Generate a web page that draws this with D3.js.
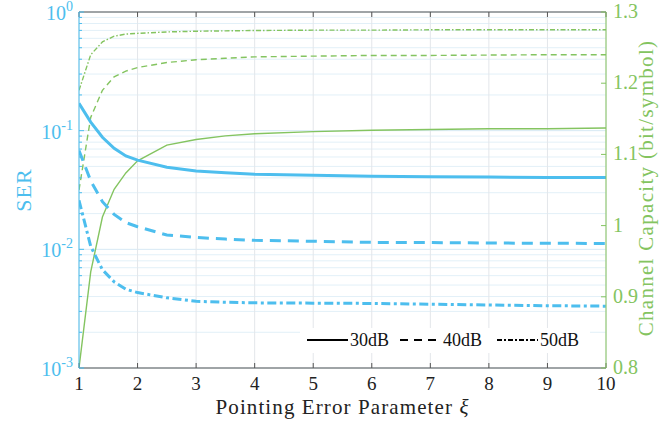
<!DOCTYPE html>
<html>
<head>
<meta charset="utf-8">
<script src="https://cdn.jsdelivr.net/npm/d3@7"></script>
<style>
body { margin: 0; background: #fff; }
text { font-family: "Liberation Serif", "DejaVu Serif", serif; }
</style>
</head>
<body>
<svg id="chart" width="663" height="425"></svg>
<script>
// pointing error parameter samples
var xi = [1, 1.2, 1.4, 1.6, 1.8, 2, 2.5, 3, 3.5, 4, 5, 6, 7, 8, 9, 10];

// SER, left log axis
var ser30 = [0.170, 0.118, 0.088, 0.071, 0.0612, 0.0565, 0.0492, 0.0458, 0.0442, 0.0430, 0.0420, 0.0413, 0.0409, 0.0406, 0.0404, 0.0403];
var ser40 = [0.068, 0.0378, 0.0252, 0.0197, 0.0168, 0.0155, 0.0132, 0.0126, 0.0122, 0.0119, 0.0117, 0.01145, 0.0114, 0.0113, 0.01125, 0.0112];
var ser50 = [0.0259, 0.0106, 0.00673, 0.00532, 0.00461, 0.00432, 0.0039, 0.00365, 0.00358, 0.00354, 0.00352, 0.0035, 0.00345, 0.0034, 0.00335, 0.00332];

// channel capacity, right axis
var cap30 = [0.80, 0.935, 1.012, 1.051, 1.074, 1.091, 1.113, 1.121, 1.126, 1.129, 1.132, 1.134, 1.135, 1.136, 1.136, 1.137];
var cap40 = [1.05, 1.152, 1.19, 1.209, 1.217, 1.222, 1.229, 1.233, 1.235, 1.237, 1.238, 1.239, 1.239, 1.2395, 1.24, 1.24];
var cap50 = [1.19, 1.24, 1.258, 1.266, 1.269, 1.270, 1.272, 1.273, 1.2735, 1.274, 1.2745, 1.2745, 1.275, 1.275, 1.275, 1.275];

var snrLabels = ["30dB", "40dB", "50dB"];
var xTicks = [1, 2, 3, 4, 5, 6, 7, 8, 9, 10];
var serTicks = [1e-3, 1e-2, 1e-1, 1];
var capTicks = [0.8, 0.9, 1, 1.1, 1.2, 1.3];

var blue = "#4DBEEE", green = "#84C460";
var pL = 79, pR = 606, pT = 12, pB = 368;

var svg = d3.select("#chart");
var x = d3.scaleLinear().domain([1, 10]).range([pL, pR]);
var yL = d3.scaleLog().domain([1e-3, 1]).range([pB, pT]);
var yR = d3.scaleLinear().domain([0.8, 1.3]).range([pB, pT]);

svg.append("defs").append("clipPath").attr("id", "clip")
    .append("rect").attr("x", pL).attr("y", pT).attr("width", pR - pL).attr("height", pB - pT);

var grid = svg.append("g");
// minor log grid
var minor = [];
for (var d = -3; d < 0; d++) {
    for (var m = 2; m <= 9; m++) minor.push(m * Math.pow(10, d));
}
grid.selectAll(".minor").data(minor).enter().append("line")
    .attr("x1", pL).attr("x2", pR)
    .attr("y1", function(v) { return yL(v); }).attr("y2", function(v) { return yL(v); })
    .attr("stroke", "#e2f0f8").attr("stroke-width", 1);
grid.selectAll(".major").data(serTicks).enter().append("line")
    .attr("x1", pL).attr("x2", pR)
    .attr("y1", function(v) { return yL(v); }).attr("y2", function(v) { return yL(v); })
    .attr("stroke", "#d6e9f4").attr("stroke-width", 1);
grid.selectAll(".vgrid").data(xTicks).enter().append("line")
    .attr("x1", function(v) { return x(v); }).attr("x2", function(v) { return x(v); })
    .attr("y1", pT).attr("y2", pB)
    .attr("stroke", "#e3e6ea").attr("stroke-width", 1);

var plot = svg.append("g").attr("clip-path", "url(#clip)");
var lineL = function(arr) {
    return d3.line().x(function(v, i) { return x(xi[i]); }).y(function(v) { return yL(v); })(arr);
};
var lineR = function(arr) {
    return d3.line().x(function(v, i) { return x(xi[i]); }).y(function(v) { return yR(v); })(arr);
};

var capSeries = [[cap30, null], [cap40, "6,4"], [cap50, "5,2,1.5,2"]];
capSeries.forEach(function(s) {
    plot.append("path").attr("d", lineR(s[0])).attr("fill", "none")
        .attr("stroke", green).attr("stroke-width", 1.4)
        .attr("stroke-dasharray", s[1]);
});
var serSeries = [[ser30, null], [ser40, "11,7"], [ser50, "9,3.5,3,3.5"]];
serSeries.forEach(function(s) {
    plot.append("path").attr("d", lineL(s[0])).attr("fill", "none")
        .attr("stroke", blue).attr("stroke-width", 3)
        .attr("stroke-dasharray", s[1]);
});

// box: top and bottom axes
var axisG = svg.append("g");
[pT, pB].forEach(function(yy) {
    axisG.append("line").attr("x1", pL).attr("x2", pR).attr("y1", yy).attr("y2", yy)
        .attr("stroke", "#555").attr("stroke-width", 1);
});
xTicks.forEach(function(t) {
    axisG.append("line").attr("x1", x(t)).attr("x2", x(t)).attr("y1", pB).attr("y2", pB - 5)
        .attr("stroke", "#555");
    axisG.append("line").attr("x1", x(t)).attr("x2", x(t)).attr("y1", pT).attr("y2", pT + 5)
        .attr("stroke", "#555");
    axisG.append("text").attr("x", x(t)).attr("y", 390).attr("text-anchor", "middle")
        .attr("font-size", 19).attr("fill", "#222").text(t);
});

// left axis
axisG.append("line").attr("x1", pL).attr("x2", pL).attr("y1", pT).attr("y2", pB)
    .attr("stroke", blue).attr("stroke-width", 1);
minor.forEach(function(v) {
    axisG.append("line").attr("x1", pL).attr("x2", pL + 3).attr("y1", yL(v)).attr("y2", yL(v))
        .attr("stroke", blue);
});
serTicks.forEach(function(v) {
    var yy = yL(v);
    axisG.append("line").attr("x1", pL).attr("x2", pL + 5).attr("y1", yy).attr("y2", yy)
        .attr("stroke", blue);
    var t = axisG.append("text").attr("x", 73).attr("y", yy + 8).attr("text-anchor", "end")
        .attr("font-size", 20).attr("fill", blue);
    t.append("tspan").text("10");
    t.append("tspan").attr("dy", -9).attr("font-size", 14).text(Math.round(Math.log10(v)));
});
axisG.append("text").attr("transform", "translate(31," + ((pT + pB) / 2) + ") rotate(-90)")
    .attr("text-anchor", "middle").attr("font-size", 22).attr("letter-spacing", 1)
    .attr("fill", blue).text("SER");

// right axis
axisG.append("line").attr("x1", pR).attr("x2", pR).attr("y1", pT).attr("y2", pB)
    .attr("stroke", green).attr("stroke-width", 1);
capTicks.forEach(function(v) {
    var yy = yR(v);
    axisG.append("line").attr("x1", pR).attr("x2", pR - 5).attr("y1", yy).attr("y2", yy)
        .attr("stroke", green);
    axisG.append("text").attr("x", 613).attr("y", yy + 6).attr("font-size", 20)
        .attr("fill", green).text(d3.format("~g")(v));
});
axisG.append("text").attr("transform", "translate(653," + 188 + ") rotate(-90)")
    .attr("text-anchor", "middle").attr("font-size", 21).attr("letter-spacing", 1.3)
    .attr("fill", green).text("Channel Capacity (bit/symbol)");

// x label
var xl = axisG.append("text").attr("x", (pL + pR) / 2).attr("y", 414).attr("text-anchor", "middle")
    .attr("font-size", 21).attr("letter-spacing", 1.1).attr("fill", "#222");
xl.append("tspan").text("Pointing Error Parameter ");
xl.append("tspan").attr("font-style", "italic").text("ξ");

// legend
var leg = svg.append("g");
leg.append("rect").attr("x", 300).attr("y", 328).attr("width", 290).attr("height", 25).attr("fill", "#fff");
var legDash = [null, "8,6", "5,2,2,2"];
var legX = [307, 400, 497];
snrLabels.forEach(function(lbl, i) {
    leg.append("line").attr("x1", legX[i]).attr("x2", legX[i] + 41).attr("y1", 340).attr("y2", 340)
        .attr("stroke", "#000").attr("stroke-width", 2).attr("stroke-dasharray", legDash[i]);
    leg.append("text").attr("x", legX[i] + 43).attr("y", 346).attr("font-size", 18)
        .attr("fill", "#111").text(lbl);
});
</script>
</body>
</html>
